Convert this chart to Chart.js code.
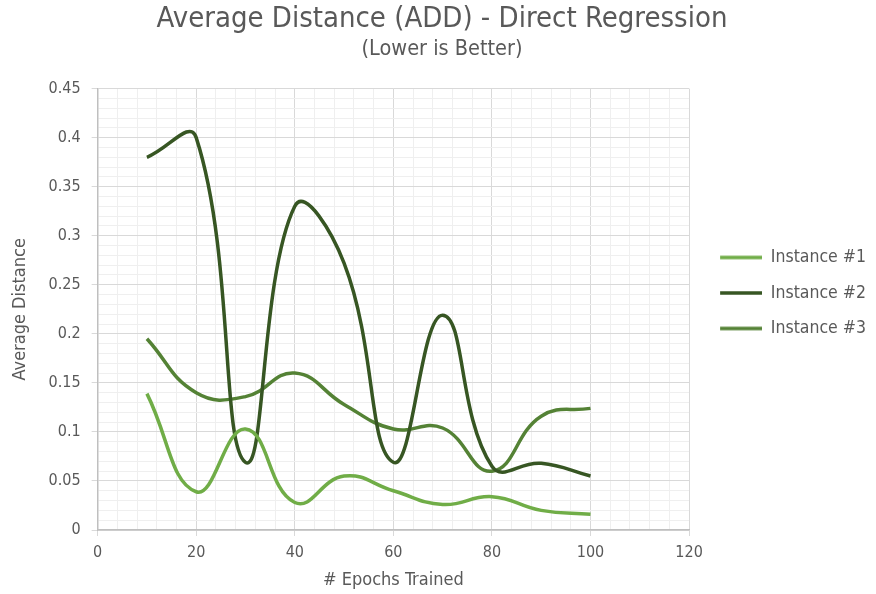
<!DOCTYPE html>
<html>
<head>
<meta charset="utf-8">
<script src="https://cdn.jsdelivr.net/npm/chart.js@4/dist/chart.umd.min.js"></script>
<style>
  html, body { margin: 0; padding: 0; background: #ffffff; }
  #wrap { width: 876px; height: 594px; }
</style>
</head>
<body>
<div id="wrap"><canvas id="add-chart" width="876" height="594"></canvas></div>
<script>
// Epochs on the x axis, one value per 10 epochs
var epochs = [10, 20, 30, 40, 50, 60, 70, 80, 90, 100];
var instance1 = [0.139, 0.039, 0.103, 0.028, 0.055, 0.040, 0.026, 0.034, 0.020, 0.016];
var instance2 = [0.380, 0.400, 0.069, 0.330, 0.272, 0.069, 0.219, 0.065, 0.068, 0.055];
var instance3 = [0.195, 0.140, 0.136, 0.160, 0.128, 0.103, 0.104, 0.060, 0.116, 0.124];
var seriesNames = ['Instance #1', 'Instance #2', 'Instance #3'];
var seriesColors = ['#70ad47', '#375623', '#548235'];

var textColor = '#595959';
var fontFamily = "'DejaVu Sans Condensed', 'Liberation Sans Narrow', 'DejaVu Sans', sans-serif";

function toPoints(values) {
  return values.map(function(v, i) { return { x: epochs[i], y: v }; });
}

// legend swatch: short line with some empty room on its left,
// so the legend sits a bit further away from the plot
function legendSwatch(color) {
  var c = document.createElement('canvas');
  c.width = 55;
  c.height = 6;
  var g = c.getContext('2d');
  g.strokeStyle = color;
  g.lineWidth = 3.5;
  g.beginPath();
  g.moveTo(13, 3);
  g.lineTo(55, 3);
  g.stroke();
  return c;
}

var datasets = [instance1, instance2, instance3].map(function(values, i) {
  return {
    label: seriesNames[i],
    data: toPoints(values),
    borderColor: seriesColors[i],
    backgroundColor: seriesColors[i],
    borderWidth: 3.5,
    pointRadius: 0,
    pointStyle: legendSwatch(seriesColors[i]),
    tension: 0.45,
    fill: false
  };
});

// minor grid every 0.01 / 4 epochs, majors every 0.05 / 20 epochs
function isMajorY(v) { return Math.round(v * 100) % 5 === 0; }
function isMajorX(v) { return Math.round(v) % 20 === 0; }

var ctx = document.getElementById('add-chart').getContext('2d');
new Chart(ctx, {
  type: 'line',
  data: { datasets: datasets },
  options: {
    responsive: false,
    animation: false,
    layout: { padding: { top: 0, left: 8, right: 0, bottom: 8 } },
    plugins: {
      title: {
        display: true,
        text: 'Average Distance (ADD) - Direct Regression',
        color: textColor,
        font: { family: fontFamily, size: 29, weight: 'normal' },
        padding: { top: 2, bottom: 0 }
      },
      subtitle: {
        display: true,
        text: '(Lower is Better)',
        color: textColor,
        font: { family: fontFamily, size: 21.5 },
        padding: { top: 0, bottom: 26 }
      },
      legend: {
        position: 'right',
        labels: {
          color: textColor,
          font: { family: fontFamily, size: 17.5 },
          usePointStyle: true,
          pointStyleWidth: 55,
          padding: 18
        }
      },
      tooltip: { enabled: false }
    },
    scales: {
      x: {
        type: 'linear',
        min: 0,
        max: 120,
        ticks: {
          stepSize: 4,
          autoSkip: false,
          maxRotation: 0,
          padding: 7,
          color: textColor,
          font: { family: fontFamily, size: 16 },
          callback: function(v) { return isMajorX(v) ? String(v) : ''; }
        },
        grid: {
          color: function(c) { return isMajorX(c.tick.value) ? '#d9d9d9' : '#efefef'; },
          tickColor: function(c) { return isMajorX(c.tick.value) ? '#d9d9d9' : 'rgba(0,0,0,0)'; },
          tickLength: 6
        },
        border: { color: '#bfbfbf', width: 1.5 },
        title: {
          display: true,
          text: '# Epochs Trained',
          color: textColor,
          font: { family: fontFamily, size: 18, lineHeight: 0.6 },
          padding: { top: 6, bottom: 0 }
        }
      },
      y: {
        min: 0,
        max: 0.45,
        ticks: {
          stepSize: 0.01,
          autoSkip: false,
          color: textColor,
          font: { family: fontFamily, size: 16 },
          padding: 11,
          callback: function(v) {
            return isMajorY(v) ? String(Math.round(v * 100) / 100) : '';
          }
        },
        grid: {
          color: function(c) { return isMajorY(c.tick.value) ? '#d9d9d9' : '#efefef'; },
          tickColor: function(c) { return isMajorY(c.tick.value) ? '#d9d9d9' : 'rgba(0,0,0,0)'; },
          tickLength: 6
        },
        border: { color: '#bfbfbf', width: 1.5 },
        title: {
          display: true,
          text: 'Average Distance',
          color: textColor,
          font: { family: fontFamily, size: 18 },
          padding: { top: 2, bottom: 6 }
        }
      }
    }
  }
});
</script>
</body>
</html>
